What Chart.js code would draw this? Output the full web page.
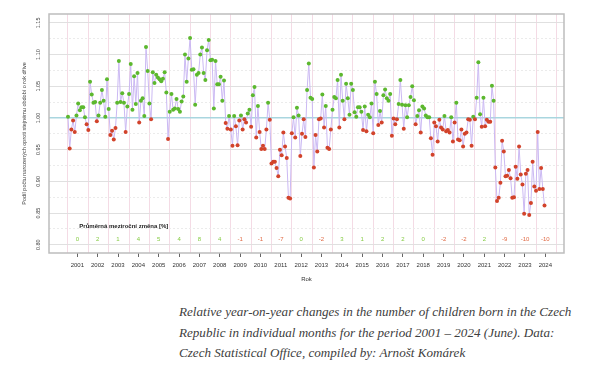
<!DOCTYPE html>
<html><head><meta charset="utf-8">
<script src="https://cdn.jsdelivr.net/npm/chart.js@4"></script>
<style>
html,body{margin:0;padding:0;background:#fff;}
#wrap{position:relative;width:601px;height:290px;}
#cap{position:absolute;left:179px;top:302px;width:420px;font-family:"Liberation Serif","DejaVu Serif",serif;font-style:italic;font-size:13.1px;line-height:20.5px;color:#404040;white-space:nowrap;}
</style></head><body>
<div id="wrap"><canvas id="c" width="601" height="290"></canvas></div>
<div id="cap">Relative year-on-year changes in the number of children born in the Czech<br>Republic in individual months for the period 2001 – 2024 (June). Data:<br>Czech Statistical Office, compiled by: Arnošt Komárek</div>
<script>
// ---- data ----
const years = ['2001','2002','2003','2004','2005','2006','2007','2008','2009','2010','2011','2012','2013','2014','2015','2016','2017','2018','2019','2020','2021','2022','2023','2024'];
const avgChange = [0,2,1,4,5,4,8,4,-1,-1,-7,0,-2,3,1,2,2,0,-2,-2,2,-9,-10,-10];
const yTickValues = [0.80,0.825,0.85,0.875,0.90,0.925,0.95,0.975,1.00,1.025,1.05,1.075,1.10,1.125,1.15];
// monthly ratio to same month of previous year, Jan 2001 .. Jun 2024
const ratios = [
1.002,0.952,0.982,0.996,0.978,1.004,1.023,1.012,1.017,1.017,1.001,0.990,
0.981,1.057,1.037,1.024,1.025,0.995,1.004,1.024,1.044,1.027,1.002,1.061,
1.014,0.973,0.980,0.966,0.984,1.024,1.090,1.025,1.039,1.024,0.978,1.018,
1.038,1.085,1.013,1.066,1.022,1.071,0.993,1.027,1.031,1.003,1.112,1.074,
1.023,0.998,1.072,1.055,1.068,1.064,1.061,1.058,1.062,1.072,1.040,0.967,
1.010,1.038,1.013,1.015,1.030,1.014,1.010,1.026,1.034,1.100,1.057,1.094,
1.126,1.076,1.077,1.021,1.068,1.071,1.100,1.111,1.071,1.060,1.107,1.123,
1.091,1.092,1.015,1.090,1.053,1.053,1.065,1.027,1.059,0.992,0.983,1.003,
0.982,0.956,1.003,0.987,0.957,0.996,1.004,0.982,0.998,0.993,1.007,1.013,
0.986,1.036,1.049,0.969,1.019,0.978,0.951,0.956,0.951,0.982,1.024,0.997,
0.928,0.931,0.931,0.921,0.908,0.950,0.941,0.977,0.955,0.937,0.874,0.873,
0.976,1.001,0.969,1.016,1.004,0.940,0.975,0.998,0.970,1.044,1.086,1.032,
1.030,0.922,0.973,0.947,0.998,0.999,1.037,0.985,1.019,0.953,0.951,0.982,
1.013,1.033,1.031,1.060,0.985,1.068,1.027,0.998,1.054,1.031,1.005,1.054,
1.044,1.009,1.002,1.017,1.017,1.010,0.981,1.018,0.979,1.005,1.001,1.023,
0.976,1.057,1.038,0.989,1.011,0.993,1.036,1.045,1.031,1.027,1.038,0.972,
0.999,0.990,0.998,1.022,1.060,1.021,0.983,1.020,1.001,1.020,1.033,1.050,
1.028,0.990,1.003,1.012,0.977,1.018,1.015,1.004,1.001,1.001,0.968,0.942,
0.993,0.987,0.963,0.997,0.985,0.982,1.003,0.979,0.981,0.977,1.001,0.963,
0.993,1.024,0.966,0.965,0.982,0.955,0.975,0.977,0.998,0.997,0.956,1.002,
0.998,1.032,1.088,1.006,0.986,1.032,0.987,0.997,0.994,0.994,1.051,1.027,
0.922,0.869,0.874,0.898,0.964,0.947,0.908,0.909,0.918,0.905,0.874,0.875,
0.923,0.904,0.955,0.911,0.895,0.849,0.912,0.918,0.847,0.866,0.931,0.892,
0.885,0.978,0.888,0.921,0.888,0.862
];

const GREEN = '#5cb82e', RED = '#d2432b';
const points = ratios.map((v,i)=>({x:i,y:v}));
const FONT = '"Liberation Sans", Arial, sans-serif';

const decor = {
  id:'decor',
  beforeDatasetsDraw(chart){
    const {ctx, chartArea:a, scales:{x,y}} = chart;
    ctx.save();
    // plot box
    ctx.strokeStyle = '#bdbdbd'; ctx.lineWidth = 1.5;
    ctx.strokeRect(a.left, a.top, a.right-a.left, a.bottom-a.top);
    // annotation title
    ctx.fillStyle = '#222';
    ctx.font = 'bold 6px ' + FONT;
    ctx.textAlign = 'left'; ctx.textBaseline = 'middle';
    ctx.fillText('Průměrná meziroční změna [%]', x.getPixelForValue(5.5)+2, y.getPixelForValue(0.829));
    // yearly averages
    ctx.font = '6px ' + FONT; ctx.textAlign = 'center';
    avgChange.forEach((v,k)=>{
      ctx.fillStyle = v < 0 ? '#e06a45' : '#86cc45';
      ctx.fillText(String(v), x.getPixelForValue(5.5+12*k), y.getPixelForValue(0.809));
    });
    // y tick labels (rotated)
    ctx.fillStyle = '#444'; ctx.font = '5.5px ' + FONT;
    yTickValues.forEach(v=>{
      if (Math.abs((v*100)%5) > 0.01 && Math.abs((v*100)%5 - 5) > 0.01) return;
      ctx.save();
      ctx.translate(38, y.getPixelForValue(v));
      ctx.rotate(-Math.PI/2);
      ctx.textAlign='center'; ctx.textBaseline='middle';
      ctx.fillText(v.toFixed(2), 0, 0);
      ctx.restore();
    });
    // y title
    ctx.save();
    ctx.translate(24, (a.top+a.bottom)/2);
    ctx.rotate(-Math.PI/2);
    ctx.textAlign='center'; ctx.textBaseline='middle';
    ctx.fillText('Podíl počtu narozených oproti stejnému období o rok dříve', 0, 0);
    ctx.restore();
    // x title
    ctx.font = '6px ' + FONT; ctx.fillStyle = '#333';
    ctx.textAlign='center'; ctx.textBaseline='middle';
    ctx.fillText('Rok', (a.left+a.right)/2, 279);
    ctx.restore();
  }
};

new Chart(document.getElementById('c'), {
  type:'line',
  data:{datasets:[{
    data: points,
    borderColor:'#cbb9f3', borderWidth:1, tension:0,
    pointRadius:2, pointHoverRadius:2, pointBorderWidth:0,
    pointBackgroundColor: points.map(p=>p.y>=1?GREEN:RED),
    pointBorderColor: points.map(p=>p.y>=1?GREEN:RED)
  }]},
  options:{
    responsive:false, animation:false, devicePixelRatio:1,
    layout:{padding:{top:14,right:37,left:0,bottom:0}},
    plugins:{legend:{display:false}, tooltip:{enabled:false}},
    scales:{
      xg:{
        type:'linear', position:'bottom', min:-11.2, max:292.5,
        afterBuildTicks(s){ s.ticks = years.map((_,k)=>({value:12*k})).concat([{value:288}]); },
        ticks:{display:false}, grid:{color:'#f4dbe5', lineWidth:1, drawTicks:false},
        border:{display:false},
        afterFit(s){ s.height = 0; }
      },
      x:{
        type:'linear', position:'bottom', min:-11.2, max:292.5,
        afterBuildTicks(s){ s.ticks = years.map((_,k)=>({value:5.5+12*k})); },
        ticks:{autoSkip:false, maxRotation:0, minRotation:0, padding:5, color:'#333',
          font:{size:6, family:FONT}, callback:(v,i)=>years[i]},
        grid:{drawOnChartArea:false, drawTicks:true, tickLength:4, tickColor:'#666'},
        border:{display:false},
        afterFit(s){ s.height = 37; }
      },
      y:{
        type:'linear', min:0.787, max:1.164,
        afterBuildTicks(s){ s.ticks = yTickValues.map(v=>({value:v})); },
        ticks:{display:false},
        grid:{
          drawTicks:false,
          color:(c)=>{ const v=c.tick.value; if (Math.abs(v-1)<1e-6) return '#a9d6df';
            return (Math.round(v*1000)%50===0) ? '#e0e0e0' : '#ebebeb'; },
          lineWidth:(c)=> Math.abs(c.tick.value-1)<1e-6 ? 1.5 : 1
        },
        border:{display:false, dash:(c)=>{ const v=c.tick && c.tick.value; if(v===undefined) return []; return (Math.round(v*1000)%50===0)?[]:[2,2]; }},
        afterFit(s){ s.width = 49; }
      }
    }
  },
  plugins:[decor]
});
</script>
</body></html>
